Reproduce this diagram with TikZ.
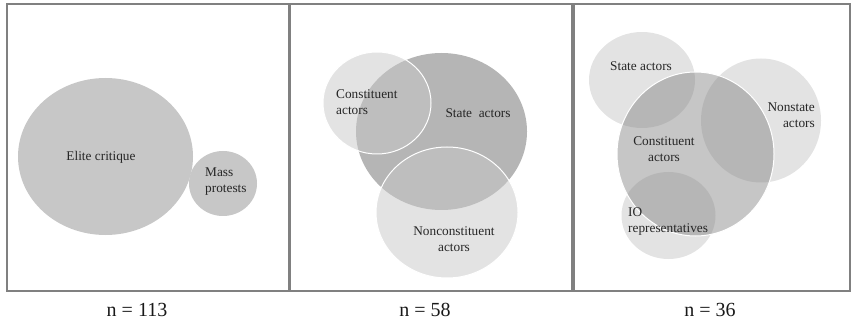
\documentclass[tikz,border=0pt]{standalone}
\usepackage{fontspec}
\setmainfont{Liberation Serif}
\usepackage{xcolor}

\tikzset{
  panel/.style={draw=black!50, line width=1.2pt},
  solidset/.style={fill=black!22},
  darkset/.style={fill=black!29},
  lightset/.style={fill=black!11},
  topset/.style={fill=black!22, fill opacity=0.5, draw=white, line width=1pt},
  coreset/.style={fill=black!49, fill opacity=0.46, draw=white, line width=1pt},
  lbl/.style={inner sep=0pt, text=black!85, font=\fontsize{13.3}{16}\selectfont},
  count/.style={inner sep=0pt, text=black!90, font=\fontsize{20}{24}\selectfont}
}

\begin{document}
\begin{tikzpicture}[x=1pt,y=-1pt]
    \useasboundingbox (0,0) rectangle (851,323);

    % panels
    \draw[panel] (7,4) rectangle (289,291);
    \draw[panel] (290,4) rectangle (572,291);
    \draw[panel] (574,4) rectangle (850,291);

    % n = 113
    \fill[solidset] (105.5,156.5) ellipse (87.5 and 78.5);
    \fill[solidset] (223,183.5) ellipse (34 and 32.5);
    \node (elite) [lbl] at (101,157) {Elite critique};
    \node (mass) [lbl, align=left, anchor=west] at (205,182) {Mass\\protests};

    % n = 58
    \fill[darkset] (441.5,131.5) ellipse (85.5 and 78.5);
    \path[topset] (377,103) ellipse (54 and 51);
    \path[topset] (447,212.5) ellipse (71 and 65.5);
    \node (const2) [lbl, align=left, anchor=west] at (336,102) {Constituent\\actors};
    \node (state2) [lbl] at (478,113) {State~ actors};
    \node (noncon2) [lbl, align=center] at (454,239) {Nonconstituent\\actors};

    % n = 36
    \fill[lightset] (642,80) ellipse (53 and 48);
    \fill[lightset] (761,120.5) ellipse (60 and 62);
    \fill[lightset] (668.5,215.5) ellipse (47 and 43.5);
    \path[coreset] (695.5,154) ellipse (78.5 and 82);
    \node (state3) [lbl] at (641,66) {State actors};
    \node (nonstate3) [lbl, align=right, anchor=east] at (815,115) {Nonstate\\actors};
    \node (const3) [lbl, align=center] at (664,149) {Constituent\\actors};
    \node (io3) [lbl, align=left, anchor=west] at (628,222) {IO\\representatives};

    % counts
    \node (n1) [count] at (137,310) {n = 113};
    \node (n2) [count] at (425,310) {n = 58};
    \node (n3) [count] at (710,310) {n = 36};
  \end{tikzpicture}
\end{document}
